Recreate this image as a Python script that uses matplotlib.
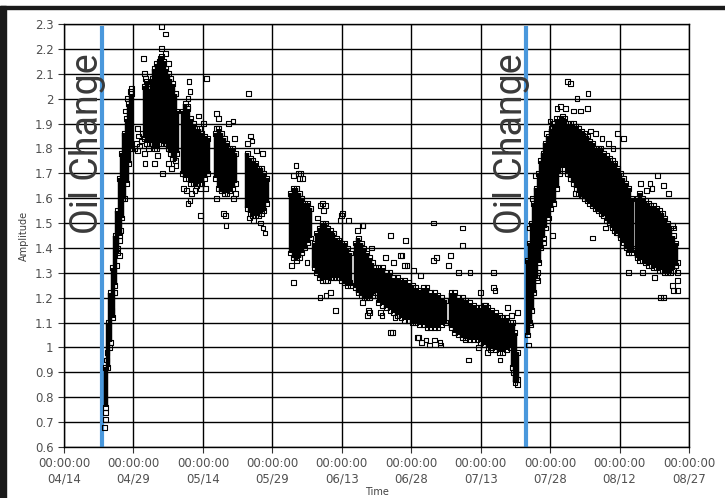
import matplotlib
matplotlib.use("Agg")
import matplotlib.pyplot as plt
from matplotlib.patches import Rectangle

# time axis = days after 04/14 00:00:00
date_labels = ["04/14", "04/29", "05/14", "05/29", "06/13", "06/28", "07/13", "07/28", "08/12", "08/27"]
date_ticks = [0, 15, 30, 45, 60, 75, 90, 105, 120, 135]
amp_ticks = [0.6, 0.7, 0.8, 0.9, 1.0, 1.1, 1.2, 1.3, 1.4, 1.5, 1.6, 1.7, 1.8, 1.9, 2.0, 2.1, 2.2, 2.3]
amp_labels = ["0.6", "0.7", "0.8", "0.9", "1", "1.1", "1.2", "1.3", "1.4", "1.5", "1.6", "1.7", "1.8", "1.9", "2", "2.1", "2.2", "2.3"]

oil_change_days = [8.2, 99.8]

# dense part of the cloud: day, lower and upper amplitude
core_day = [9.0, 9.5, 10.0, 10.5, 11.0, 11.5, 12.0, 12.5, 13.0, 13.5, 14.0, 14.5,
            17.4, 17.9, 18.4,
            19.0, 19.5, 20.0, 20.5, 21.0, 21.5, 22.0, 22.5, 23.0, 23.5, 24.0, 24.4,
            25.6, 26.2, 26.8, 27.4, 28.0, 28.6, 29.2, 29.8, 30.4, 31.0,
            32.8, 33.4, 34.0, 34.6, 35.2, 35.8, 36.4, 37.0,
            39.6, 40.2, 40.8, 41.4, 42.0, 42.6, 43.2, 43.8,
            49.0, 49.6, 50.2, 50.8, 51.4, 52.0, 52.6, 53.2,
            54.0, 54.6, 55.2, 55.8, 56.4, 57.0, 57.6, 58.2, 58.8, 59.4, 60.0, 60.6, 61.2, 61.8,
            63.0, 63.6, 64.2, 64.8, 65.4, 66.0, 66.6, 67.2,
            68.0, 68.8, 69.6, 70.4, 71.2, 72.0, 72.8, 73.6, 74.4, 75.2, 76.0, 76.8,
            77.6, 78.4, 79.2, 80.0, 80.8, 81.6, 82.4,
            83.6, 84.4, 85.2, 86.0, 86.8, 87.6, 88.4, 89.2,
            90.0, 90.8, 91.6, 92.4, 93.2, 94.0, 94.8, 95.6, 96.4,
            96.9, 97.4, 97.9,
            100.2, 100.6, 101.0, 101.5, 102.0, 102.5, 103.0, 103.5, 104.0, 104.6,
            105.2, 105.8, 106.4, 107.0, 107.6, 108.2, 108.8, 109.4, 110.0, 110.6,
            111.2, 111.8, 112.4, 113.0, 113.6, 114.2, 114.8, 115.4, 116.0, 116.6,
            117.2, 117.8, 118.4, 119.0, 119.6, 120.2, 120.8, 121.4, 122.0, 122.6,
            123.8, 124.4, 125.0, 125.6, 126.2, 126.8, 127.4, 128.0, 128.6, 129.2,
            129.8, 130.4, 131.0, 131.6, 132.2]
core_lo = [0.76, 0.92, 1.02, 1.12, 1.25, 1.38, 1.45, 1.52, 1.60, 1.66, 1.74, 1.80,
           1.84, 1.82, 1.82,
           1.82, 1.80, 1.80, 1.82, 1.82, 1.83, 1.82, 1.80, 1.78, 1.76, 1.75, 1.78,
           1.70, 1.68, 1.68, 1.66, 1.66, 1.65, 1.66, 1.66, 1.68, 1.70,
           1.68, 1.64, 1.63, 1.62, 1.62, 1.63, 1.64, 1.66,
           1.56, 1.54, 1.53, 1.53, 1.53, 1.54, 1.55, 1.58,
           1.38, 1.36, 1.35, 1.36, 1.38, 1.40, 1.42, 1.44,
           1.32, 1.30, 1.28, 1.27, 1.27, 1.27, 1.28, 1.28, 1.28, 1.28, 1.27, 1.26, 1.25, 1.25,
           1.24, 1.22, 1.21, 1.20, 1.20, 1.20, 1.21, 1.22,
           1.18, 1.17, 1.16, 1.15, 1.14, 1.13, 1.12, 1.11, 1.11, 1.10, 1.10, 1.09,
           1.09, 1.08, 1.08, 1.08, 1.08, 1.09, 1.10,
           1.08, 1.06, 1.05, 1.04, 1.04, 1.03, 1.03, 1.03,
           1.02, 1.01, 1.00, 1.00, 0.99, 0.98, 0.98, 0.99, 1.00,
           0.92, 0.86, 0.87,
           1.05, 1.10, 1.15, 1.22, 1.28, 1.34, 1.40, 1.44, 1.48, 1.52,
           1.56, 1.58, 1.64, 1.70, 1.72, 1.72, 1.70, 1.68, 1.66, 1.64,
           1.62, 1.61, 1.60, 1.59, 1.58, 1.57, 1.56, 1.55, 1.54, 1.53,
           1.51, 1.50, 1.48, 1.47, 1.46, 1.44, 1.42, 1.40, 1.38, 1.38,
           1.36, 1.35, 1.35, 1.34, 1.33, 1.33, 1.32, 1.32, 1.31, 1.31,
           1.30, 1.30, 1.30, 1.31, 1.33]
core_hi = [0.92, 1.10, 1.22, 1.32, 1.45, 1.55, 1.68, 1.78, 1.86, 1.92, 1.98, 2.02,
           2.05, 2.07, 2.04,
           2.08, 2.12, 2.14, 2.15, 2.17, 2.15, 2.12, 2.10, 2.08, 2.06, 2.02, 1.95,
           1.95, 1.98, 1.96, 1.92, 1.90, 1.88, 1.88, 1.86, 1.85, 1.84,
           1.86, 1.88, 1.86, 1.84, 1.82, 1.80, 1.80, 1.78,
           1.78, 1.76, 1.75, 1.74, 1.72, 1.72, 1.70, 1.68,
           1.62, 1.64, 1.64, 1.62, 1.60, 1.58, 1.58, 1.56,
           1.42, 1.46, 1.48, 1.50, 1.50, 1.48, 1.47, 1.46, 1.44, 1.43, 1.42, 1.42, 1.40, 1.38,
           1.42, 1.44, 1.42, 1.40, 1.38, 1.36, 1.34, 1.32,
           1.32, 1.32, 1.30, 1.30, 1.28, 1.28, 1.27, 1.27, 1.26, 1.25, 1.24, 1.23,
           1.24, 1.24, 1.22, 1.22, 1.21, 1.20, 1.19,
           1.22, 1.22, 1.20, 1.20, 1.19, 1.18, 1.17, 1.16,
           1.16, 1.17, 1.16, 1.15, 1.14, 1.13, 1.12, 1.12, 1.10,
           1.10, 1.06, 0.98,
           1.35, 1.42, 1.50, 1.58, 1.64, 1.70, 1.75, 1.78, 1.82, 1.85,
           1.88, 1.90, 1.92, 1.92, 1.93, 1.92, 1.90, 1.90, 1.90, 1.89,
           1.88, 1.87, 1.86, 1.85, 1.83, 1.82, 1.80, 1.80, 1.80, 1.78,
           1.77, 1.76, 1.75, 1.74, 1.72, 1.70, 1.68, 1.66, 1.64, 1.60,
           1.60, 1.62, 1.60, 1.59, 1.58, 1.57, 1.57, 1.56, 1.55, 1.54,
           1.52, 1.50, 1.48, 1.45, 1.42]

# single scattered readings
pts_day = [8.8, 8.9, 8.9, 9.1, 9.3, 9.8, 10.2, 10.9, 11.4, 11.6, 11.9, 12.1, 12.3, 12.6, 13.2, 13.8, 14.3, 14.6,
           15.2, 15.6, 15.9, 16.3, 16.7, 15.8, 16.1, 16.9,
           17.1, 17.4, 17.6, 17.5, 17.3, 18.3,
           21.0, 22.0, 21.1, 20.8, 22.0, 22.6, 19.5, 21.2, 22.5, 23.3, 20.2, 24.2,
           27.0, 30.7, 27.2, 26.8, 26.6, 25.8, 26.5, 27.5, 28.3, 29.5, 30.5, 26.8, 27.2, 29.4, 29.0, 30.2,
           33.0, 33.3, 36.5, 35.5, 32.9, 36.9, 33.0, 34.4, 34.8, 35.0, 36.6, 37.0,
           39.8,
           40.2, 40.6, 42.8, 39.7, 41.5, 40.0, 41.0, 42.4, 43.0, 43.4,
           50.1, 50.6, 51.0, 50.9, 49.6, 51.5, 49.5, 52.5, 49.2,
           55.8, 56.4, 54.7, 59.6, 60.0, 61.4, 55.3, 56.0, 60.1, 64.4, 64.6, 55.3, 56.6, 58.6, 61.6, 57.5,
           64.4, 65.7, 65.5, 66.0, 63.4, 66.5,
           68.3, 68.7, 70.9, 71.5, 70.5, 76.3, 76.5, 77.3, 78.2, 79.0, 80.0, 81.2, 81.3, 86.7, 87.3, 89.5, 92.1, 94.2, 91.4,
           73.7, 73.0, 73.5, 83.4, 79.8, 86.0, 85.2, 87.7, 79.8, 70.5, 72.6, 86.0, 83.0, 80.4, 74.1, 71.2, 69.5, 75.5, 77.0,
           92.7, 93.1, 89.9, 92.7, 97.9, 91.0, 97.0, 97.5, 97.9, 95.8, 96.6,
           100.3, 100.7, 100.4, 102.2, 102.2, 102.3, 101.8, 105.5, 103.5, 101.1, 101.3, 100.5, 101.2,
           108.7, 109.4, 110.8, 113.2, 113.0, 106.5, 107.3, 108.3, 110.0, 111.5, 113.7, 114.8, 119.5, 120.8,
           117.6, 116.2, 118.6, 105.0, 104.2,
           128.2, 126.6, 124.5, 125.8, 127.0, 129.5, 130.5,
           114.1, 119.3, 115.2, 112.0, 121.9, 122.0, 131.4, 131.6, 131.6, 131.5, 129.5, 132.5, 132.5, 132.5,
           132.6, 119.1, 128.8, 123.2, 125.0, 127.5, 110.5, 117.0]
pts_amp = [0.68, 0.71, 0.74, 0.95, 0.98, 1.00, 1.15, 1.22, 1.33, 1.40, 1.37, 1.43, 1.47, 1.60, 1.95, 2.00, 2.03, 2.04,
           1.80, 1.82, 1.79, 1.81, 1.83, 1.88, 1.85, 1.86,
           2.16, 2.10, 2.08, 1.74, 1.78, 1.80,
           2.29, 2.26, 2.20, 2.16, 2.18, 2.14, 1.74, 1.70, 1.74, 1.72, 1.77, 1.73,
           2.07, 2.08, 2.03, 2.00, 1.97, 1.64, 1.63, 1.62, 1.63, 1.64, 1.64, 1.58, 1.59, 1.53, 1.93, 1.90,
           1.94, 1.92, 1.91, 1.90, 1.88, 1.84, 1.60, 1.54, 1.53, 1.49, 1.60, 1.62,
           2.02,
           1.85, 1.83, 1.78, 1.82, 1.79, 1.52, 1.51, 1.50, 1.48, 1.46,
           1.73, 1.70, 1.70, 1.68, 1.69, 1.68, 1.26, 1.34, 1.33,
           1.58, 1.57, 1.52, 1.51, 1.53, 1.51, 1.57, 1.55, 1.54, 1.49, 1.49, 1.20, 1.21, 1.15, 1.26, 1.22,
           1.18, 1.15, 1.13, 1.14, 1.47, 1.40,
           1.14, 1.13, 1.06, 1.12, 1.06, 1.04, 1.04, 1.02, 1.03, 1.01, 1.03, 1.02, 1.01, 1.03, 0.95, 1.00, 0.99, 0.95, 0.98,
           1.43, 1.37, 1.33, 1.37, 1.35, 1.41, 1.30, 1.30, 1.50, 1.45, 1.37, 1.48, 1.33, 1.36, 1.33, 1.34, 1.36, 1.31, 1.29,
           1.30, 1.23, 1.22, 1.24, 1.14, 1.17, 0.90, 0.87, 0.85, 1.16, 1.13,
           1.01, 1.09, 1.20, 1.27, 1.30, 1.39, 1.69, 1.45, 1.42, 1.31, 1.29, 1.48, 1.60,
           2.07, 2.06, 2.00, 2.02, 1.96, 1.96, 1.97, 1.96, 1.95, 1.95, 1.87, 1.86, 1.86, 1.84,
           1.82, 1.84, 1.80, 1.91, 1.86,
           1.69, 1.66, 1.66, 1.63, 1.64, 1.65, 1.62,
           1.44, 1.46, 1.56, 1.61, 1.30, 1.38, 1.49, 1.48, 1.23, 1.25, 1.20, 1.34, 1.30, 1.27,
           1.23, 1.50, 1.20, 1.40, 1.30, 1.28, 1.62, 1.48]

fig = plt.figure(figsize=(7.25, 4.98), dpi=100)
ax = fig.add_axes([0.0883, 0.1024, 0.862, 0.8494])

# blue markers for the oil changes
ax.vlines(oil_change_days, 0.6, 2.29, color="#4a98dc", linewidth=3.0, zorder=2)

ax.vlines(core_day, core_lo, core_hi, color="black", linewidth=3.2, zorder=3)
ax.scatter(core_day + core_day, core_lo + core_hi, marker="s", s=12,
           facecolors="none", edgecolors="black", linewidths=0.8, zorder=3)
ax.scatter(pts_day, pts_amp, marker="s", s=12,
           facecolors="none", edgecolors="black", linewidths=0.8, zorder=3)

for d in oil_change_days:
    ax.text(d - 3.1, 1.82, "Oil Change", rotation=90, ha="center", va="center",
            fontsize=27, family="Roboto", color="#3a3a3a", zorder=4)

ax.set_xlim(0, 135)
ax.set_ylim(0.6, 2.3)
ax.set_xticks(date_ticks)
ax.set_xticklabels(["00:00:00\n" + d for d in date_labels])
ax.set_yticks(amp_ticks)
ax.set_yticklabels(amp_labels)
ax.grid(True, color="black", linewidth=1.0)
ax.set_axisbelow(True)
for s in ax.spines.values():
    s.set_color("black")
    s.set_linewidth(1.0)
ax.tick_params(axis="both", labelsize=8.5, labelcolor="#505050", length=4, color="#333333")

ax.set_xlabel("Time", fontsize=7, color="#404040", labelpad=1)
ax.set_ylabel("Amplitude", fontsize=7, color="#404040", labelpad=4)

# black frame of the screenshot
fig.add_artist(Rectangle((0, 0.981), 1, 0.007, transform=fig.transFigure, color="#1a1a1a"))
fig.add_artist(Rectangle((0, 0), 0.008, 0.988, transform=fig.transFigure, color="#1a1a1a"))

fig.savefig("out.png", dpi=100)
